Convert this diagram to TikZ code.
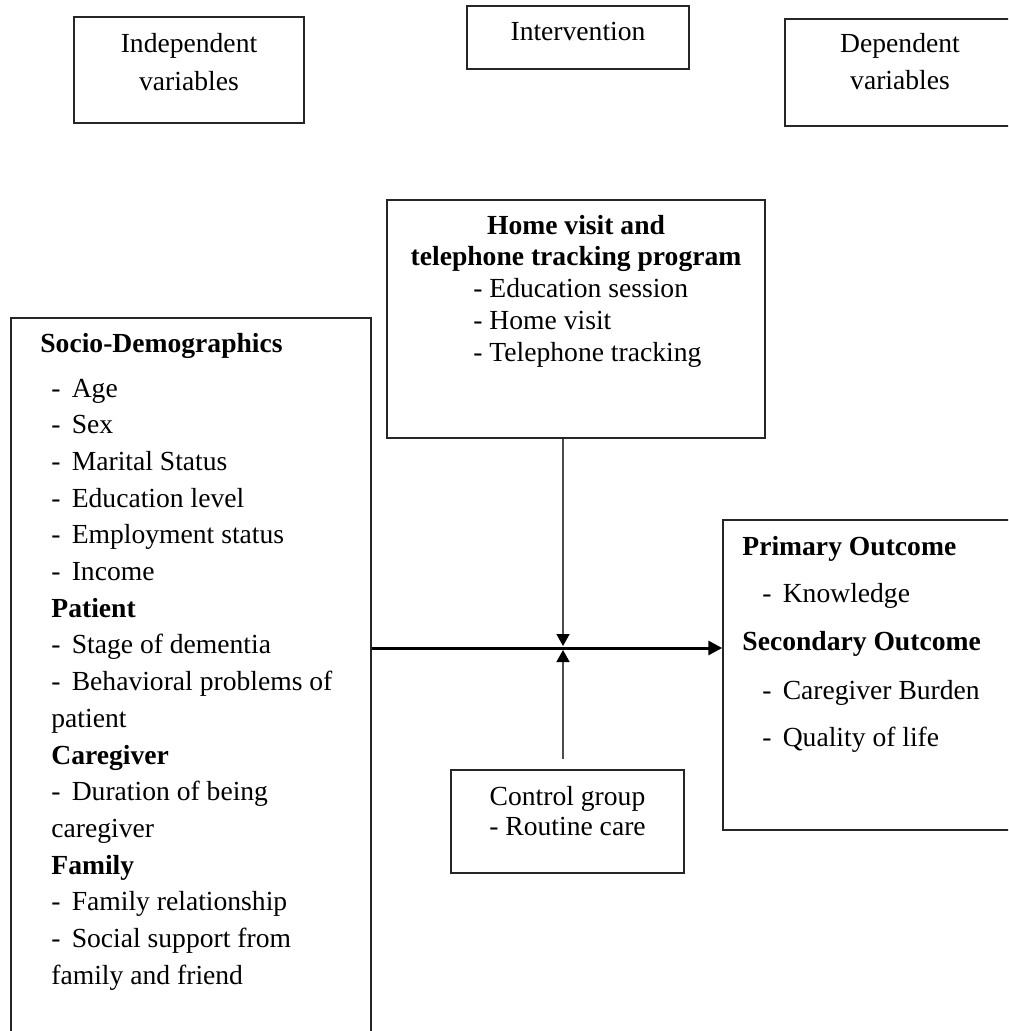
\documentclass[tikz,border=0pt]{standalone}
\usepackage{fontspec}
\setmainfont{Liberation Serif}
\usetikzlibrary{arrows.meta}

\newcommand{\itm}[1]{\makebox[10.2pt][l]{-}#1}

\begin{document}
\begin{tikzpicture}
  [x=0.5pt,y=-0.5pt,every node/.style={font=\fontsize{13.8}{16}\selectfont},
   frame/.style={draw=black!85,line width=0.75pt,inner sep=0pt},
   txt/.style={anchor=base west,inner sep=0pt},
   ctxt/.style={anchor=base,inner sep=0pt},
   thinarrow/.style={draw=black!70,line width=0.8pt,-{Triangle[length=6pt,width=6.5pt,color=black]}}]
  \useasboundingbox (0,0) rectangle (1008,1031);
  \clip (0,0) rectangle (1008,1031);

  % header boxes
  \node[frame,minimum width=115pt,minimum height=53pt] (indep) at (189,70) {};
  \node[frame,minimum width=111pt,minimum height=31.5pt] (interv) at (578,37.5) {};
  \node[frame,minimum width=115.5pt,minimum height=53.5pt] (dep) at (900.5,72.5) {};
  \node[ctxt] (indep1) at (189,53) {Independent};
  \node[ctxt] (indep2) at (189,91) {variables};
  \node[ctxt] (interv1) at (578,41) {Intervention};
  \node[ctxt] (dep1) at (900,53) {Dependent};
  \node[ctxt] (dep2) at (900,90) {variables};

  % main boxes
  \node[frame,minimum width=189pt,minimum height=119pt] (home) at (576,319) {};
  \node[frame,minimum width=180pt,minimum height=361pt] (socio) at (191,679) {};
  \node[frame,minimum width=146.5pt,minimum height=155pt] (outcome) at (869.5,675) {};
  \node[frame,minimum width=116.5pt,minimum height=51.5pt] (ctrl) at (567.5,821.5) {};

  % intervention program
  \node[ctxt] (home1) at (576,235) {\textbf{Home visit and}};
  \node[ctxt] (home2) at (576,266) {\textbf{telephone tracking program}};
  \node[txt] (home3) at (473,298) {- Education session};
  \node[txt] (home4) at (473,330) {- Home visit};
  \node[txt] (home5) at (473,362) {- Telephone tracking};

  % independent variables
  \node[txt] (socio0) at (40,353) {\textbf{Socio-Demographics}};
  \foreach \t [count=\i] in {\itm{Age},\itm{Sex},\itm{Marital Status},\itm{Education level},
      \itm{Employment status},\itm{Income},\textbf{Patient},\itm{Stage of dementia},
      \itm{Behavioral problems of},patient,\textbf{Caregiver},\itm{Duration of being},
      caregiver,\textbf{Family},\itm{Family relationship},\itm{Social support from},
      family and friend}
  {
    \pgfmathsetmacro\yy{397+(\i-1)*36.7}
    \node[txt] (socio\i) at (51,\yy) {\t};
  }

  % outcomes
  \node[txt] (out1) at (742,555) {\textbf{Primary Outcome}};
  \node[txt] (out2) at (762,602) {\itm{Knowledge}};
  \node[txt] (out3) at (742,650) {\textbf{Secondary Outcome}};
  \node[txt] (out4) at (762,699) {\itm{Caregiver Burden}};
  \node[txt] (out5) at (762,746) {\itm{Quality of life}};

  % control group
  \node[ctxt] (ctrl1) at (567.5,805) {Control group};
  \node[ctxt] (ctrl2) at (567.5,835) {- Routine care};

  % arrows
  \coordinate (mid) at (563,648);
  \draw[line width=1.5pt,-{Triangle[length=7pt,width=7pt]}] (socio.east |- mid) -- (outcome.west |- mid);
  \draw[thinarrow] (home.south -| mid) -- ([yshift=1pt]mid);
  \draw[thinarrow,shorten <=5pt] (ctrl.north -| mid) -- ([yshift=-1pt]mid);

\end{tikzpicture}
\end{document}
